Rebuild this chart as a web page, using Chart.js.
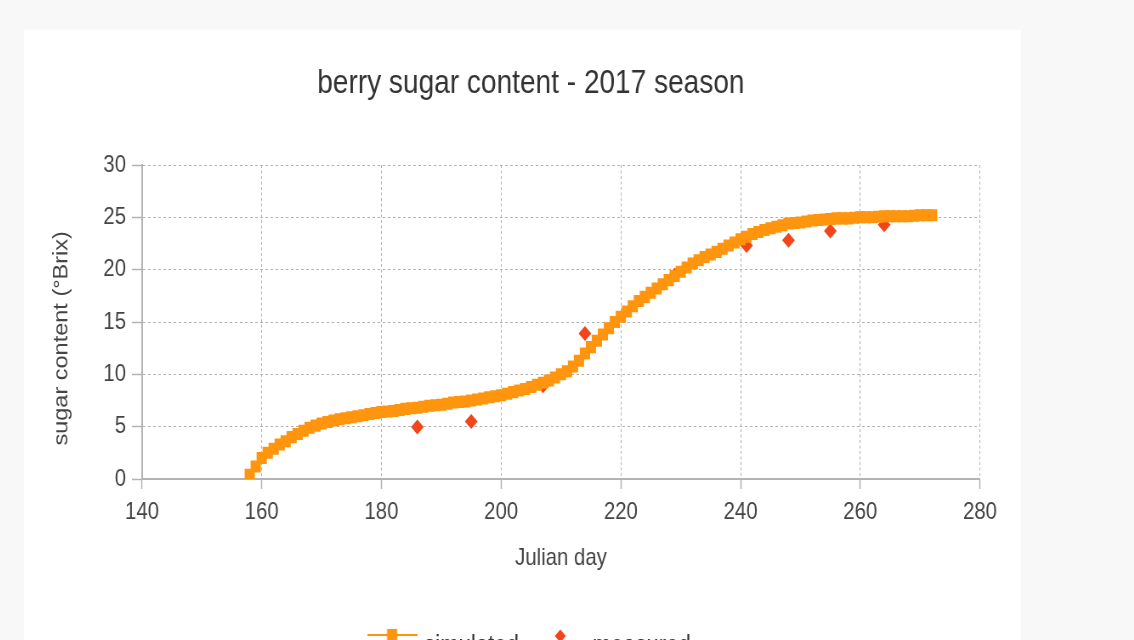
<!DOCTYPE html>
<html>
<head>
<meta charset="utf-8">
<title>berry sugar content - 2017 season</title>
<script src="https://cdn.jsdelivr.net/npm/chart.js@4.4.1/dist/chart.umd.min.js"></script>
<style>
  html, body { margin: 0; padding: 0; background: #f8f8f8; overflow: hidden; }
  body { width: 1134px; height: 640px; position: relative; }
  #card { position: absolute; left: 24px; top: 30px; width: 997px; height: 640px; background: #ffffff; overflow: hidden; }
  /* the chart is laid out on a wider canvas and narrowed to the card width */
  #chart { display: block; transform: scaleX(0.85); transform-origin: 0 0; }
</style>
</head>
<body>
<div id="card"><canvas id="chart" width="1173" height="639"></canvas></div>
<script>
// Simulated berry sugar content, one value per Julian day
const simulatedDays = [
  158,159,160,161,162,163,164,165,166,167,168,169,170,171,172,173,174,175,176,177,
  178,179,180,181,182,183,184,185,186,187,188,189,190,191,192,193,194,195,196,197,
  198,199,200,201,202,203,204,205,206,207,208,209,210,211,212,213,214,215,216,217,
  218,219,220,221,222,223,224,225,226,227,228,229,230,231,232,233,234,235,236,237,
  238,239,240,241,242,243,244,245,246,247,248,249,250,251,252,253,254,255,256,257,
  258,259,260,261,262,263,264,265,266,267,268,269,270,271,272
];
const simulatedBrix = [
  0.4,1.2,2.0,2.5,2.9,3.3,3.6,4.0,4.3,4.6,4.9,5.1,5.3,5.45,5.6,5.7,5.8,5.9,6.0,6.1,
  6.2,6.3,6.4,6.45,6.5,6.6,6.7,6.75,6.8,6.9,7.0,7.05,7.1,7.2,7.3,7.35,7.4,7.5,7.6,7.7,
  7.8,7.9,8.0,8.15,8.3,8.45,8.6,8.8,9.0,9.2,9.4,9.7,10.0,10.3,10.75,11.3,12.0,12.6,13.2,13.8,
  14.4,15.0,15.5,16.0,16.5,17.0,17.4,17.8,18.2,18.6,19.0,19.4,19.8,20.2,20.6,20.9,21.2,21.45,21.7,22.0,
  22.3,22.6,22.9,23.15,23.4,23.6,23.8,23.95,24.1,24.25,24.4,24.45,24.5,24.6,24.7,24.75,24.8,24.85,24.9,24.9,
  24.9,24.95,25.0,25.0,25.0,25.05,25.1,25.1,25.1,25.1,25.1,25.15,25.2,25.2,25.2
];

// Field samples
const measuredDays = [186, 195, 207, 214, 229, 241, 248, 255, 264];
const measuredBrix = [4.97, 5.5, 8.9, 13.9, 19.5, 22.3, 22.8, 23.7, 24.3];

// Axis ticks
const dayTicks = [140, 160, 180, 200, 220, 240, 260, 280];
const brixTicks = [0, 5, 10, 15, 20, 25, 30];

const seriesNames = ['simulated', 'measured'];

const ORANGE = '#ff950e';
const RED = '#f0461a';
const GRID = '#b0b0b0';
const AXIS = '#b3b3b3';
const TEXT = "'Liberation Sans', Arial, sans-serif";

const toPoints = (xs, ys) => xs.map((x, i) => ({ x: x, y: ys[i] }));

// Legend swatch for the simulated series: a short line with a square on it,
// sitting a little above the label's middle line
const lineSwatch = document.createElement('canvas');
lineSwatch.width = 59; lineSwatch.height = 36;
(function () {
  const c = lineSwatch.getContext('2d');
  c.strokeStyle = ORANGE; c.lineWidth = 2;
  c.beginPath(); c.moveTo(0, 7); c.lineTo(59, 7); c.stroke();
  c.fillStyle = ORANGE; c.fillRect(23.5, 1, 12, 12);
})();

// Legend swatch for the measured series: a small diamond
const diamondSwatch = document.createElement('canvas');
diamondSwatch.width = 14; diamondSwatch.height = 34;
(function () {
  const c = diamondSwatch.getContext('2d');
  c.fillStyle = RED;
  c.beginPath(); c.moveTo(7, 0.5); c.lineTo(13.5, 7); c.lineTo(7, 13.5); c.lineTo(0.5, 7); c.closePath(); c.fill();
})();

new Chart(document.getElementById('chart'), {
  type: 'scatter',
  data: {
    datasets: [
      {
        label: seriesNames[0],
        data: toPoints(simulatedDays, simulatedBrix),
        showLine: true,
        borderColor: ORANGE,
        borderWidth: 2,
        backgroundColor: ORANGE,
        pointStyle: 'rect',
        pointRadius: 8.5,
        pointBorderWidth: 0,
        pointBackgroundColor: ORANGE
      },
      {
        label: seriesNames[1],
        data: toPoints(measuredDays, measuredBrix),
        showLine: false,
        borderColor: RED,
        backgroundColor: RED,
        pointStyle: 'rectRot',
        pointRadius: 7.5,
        pointBorderWidth: 0,
        pointBackgroundColor: RED
      }
    ]
  },
  options: {
    responsive: false,
    animation: false,
    events: [],
    layout: { padding: { left: 67.9, right: 48.3, top: 0, bottom: 0 } },
    plugins: {
      title: {
        display: true,
        text: 'berry sugar content - 2017 season',
        color: '#333333',
        font: { family: TEXT, size: 33, weight: 'normal' },
        padding: { top: 34, bottom: 61.4 }
      },
      legend: {
        display: true,
        position: 'bottom',
        labels: {
          usePointStyle: true,
          pointStyleWidth: 49.6,
          boxHeight: 12,
          padding: 24,
          color: '#333333',
          font: { family: TEXT, size: 26 },
          generateLabels(chart) {
            const items = Chart.defaults.plugins.legend.labels.generateLabels(chart);
            items[0].pointStyle = lineSwatch;
            items[1].pointStyle = diamondSwatch;
            return items;
          }
        }
      },
      tooltip: { enabled: false }
    },
    scales: {
      x: {
        type: 'linear',
        min: dayTicks[0],
        max: dayTicks[dayTicks.length - 1],
        afterBuildTicks(scale) { scale.ticks = dayTicks.map(v => ({ value: v })); },
        afterFit(scale) { scale.height = 130; },
        ticks: { color: '#444444', font: { family: TEXT, size: 24 }, padding: 8.5, maxRotation: 0 },
        grid: {
          color: GRID, lineWidth: 1,
          tickLength: 10, tickColor: AXIS, tickWidth: 1.5, tickBorderDash: []
        },
        border: { display: true, color: AXIS, width: 2, dash: [3, 2.5] },
        title: {
          display: true, text: 'Julian day', color: '#444444',
          font: { family: TEXT, size: 24 }, padding: { top: 0, bottom: 36.6 }
        }
      },
      y: {
        type: 'linear',
        min: brixTicks[0],
        max: brixTicks[brixTicks.length - 1],
        afterBuildTicks(scale) { scale.ticks = brixTicks.map(v => ({ value: v })); },
        afterFit(scale) { scale.width = 70.9; },
        ticks: { color: '#444444', font: { family: TEXT, size: 24 }, padding: 7 },
        grid: {
          color: GRID, lineWidth: 1,
          tickLength: 11.8, tickColor: AXIS, tickWidth: 1.5, tickBorderDash: []
        },
        border: { display: true, color: AXIS, width: 2, dash: [3, 3] },
        title: {
          display: true, text: 'sugar content (°Brix)\u00a0\u00a0\u00a0\u00a0\u00a0', color: '#444444',
          font: { family: TEXT, size: 23.5 }, padding: { top: -37.3, bottom: 0 }
        }
      }
    }
  }
});
</script>
</body>
</html>
